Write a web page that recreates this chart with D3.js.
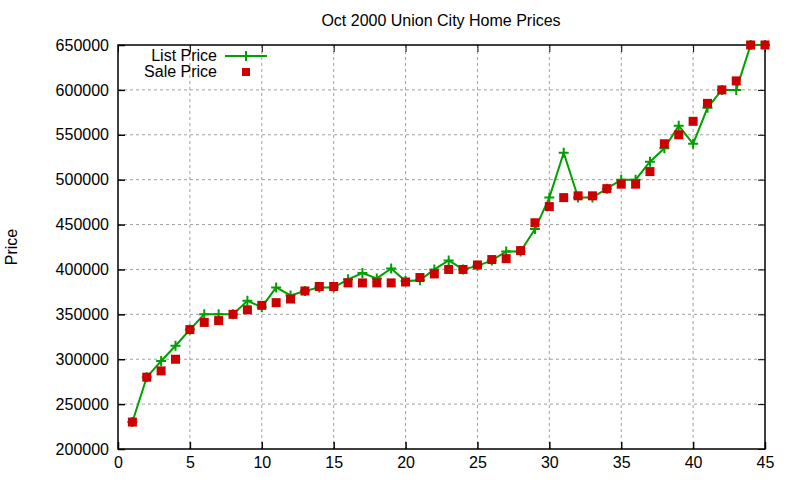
<!DOCTYPE html>
<html>
<head>
<meta charset="utf-8">
<script src="https://cdn.jsdelivr.net/npm/d3@7"></script>
<style>
  body { margin: 0; background: #fff; }
  text { font-family: "Liberation Sans", Arial, sans-serif; }
</style>
</head>
<body>
<script>
// house number on the x axis, prices
var houses = d3.range(1, 46);
var listPrice = [230000, 280000, 298000, 315000, 333000, 350000, 350000, 350000, 365000, 358000,
                 380000, 371000, 376000, 380000, 380000, 389000, 396000, 390000, 401000, 387000,
                 388000, 400000, 410000, 400000, 404000, 410000, 420000, 420000, 445000, 480000,
                 530000, 480000, 480000, 490000, 500000, 500000, 520000, 535000, 560000, 540000,
                 580000, 600000, 600000, 650000, 650000];
var salePrice = [230000, 280000, 287000, 300000, 333000, 341000, 343000, 350000, 355000, 360000,
                 363000, 367000, 376000, 381000, 381000, 385000, 385000, 385000, 385000, 386000,
                 391000, 395000, 400000, 400000, 405000, 411000, 412000, 421000, 452000, 470000,
                 480000, 482000, 482000, 490000, 495000, 495000, 509000, 540000, 550000, 565000,
                 585000, 600000, 610000, 650000, 650000];
var xTicks = d3.range(0, 46, 5);
var yTicks = d3.range(200000, 650001, 50000);

function drawChart() {
    var W = 800, H = 480;
    var pl = 118, pr = 765, pt = 45, pb = 449;
    var fs = 16;

    var svg = d3.select("body").append("svg").attr("width", W).attr("height", H);

    var x = d3.scaleLinear().domain([0, 45]).range([pl, pr]);
    var y = d3.scaleLinear().domain([200000, 650000]).range([pb, pt]);

    // grid
    svg.append("g").selectAll("line").data(xTicks.slice(1, -1)).enter().append("line")
        .attr("x1", function (d) { return x(d); }).attr("x2", function (d) { return x(d); })
        .attr("y1", pt).attr("y2", pb)
        .attr("stroke", "#a0a0a0").attr("stroke-dasharray", "3,3");
    svg.append("g").selectAll("line").data(yTicks.slice(1, -1)).enter().append("line")
        .attr("y1", function (d) { return y(d); }).attr("y2", function (d) { return y(d); })
        .attr("x1", pl).attr("x2", pr)
        .attr("stroke", "#a0a0a0").attr("stroke-dasharray", "3,3");

    // axes with mirrored ticks, gnuplot style
    function tickless(g) { g.select(".domain").remove(); g.selectAll("text").remove(); }
    svg.append("g").attr("transform", "translate(0," + pb + ")")
        .call(d3.axisBottom(x).tickValues(xTicks).tickSizeInner(-7).tickSizeOuter(0).tickPadding(8))
        .call(function (g) {
            g.select(".domain").remove();
            g.selectAll("line").attr("stroke-width", 1.5);
            g.selectAll("text").attr("font-size", fs).attr("fill", "#000")
                .attr("font-family", "Liberation Sans, Arial, sans-serif");
        });
    svg.append("g").attr("transform", "translate(0," + pt + ")")
        .call(d3.axisTop(x).tickValues(xTicks).tickSizeInner(-7).tickSizeOuter(0))
        .call(tickless);
    svg.append("g").attr("transform", "translate(" + pl + ",0)")
        .call(d3.axisLeft(y).tickValues(yTicks).tickSizeInner(-7).tickSizeOuter(0).tickPadding(9)
            .tickFormat(d3.format("d")))
        .call(function (g) {
            g.select(".domain").remove();
            g.selectAll("line").attr("stroke-width", 1.5);
            g.selectAll("text").attr("font-size", fs).attr("fill", "#000")
                .attr("font-family", "Liberation Sans, Arial, sans-serif");
        });
    svg.append("g").attr("transform", "translate(" + pr + ",0)")
        .call(d3.axisRight(y).tickValues(yTicks).tickSizeInner(-7).tickSizeOuter(0))
        .call(tickless);

    svg.append("rect").attr("x", pl).attr("y", pt)
        .attr("width", pr - pl).attr("height", pb - pt)
        .attr("fill", "none").attr("stroke", "#000").attr("stroke-width", 1.5);

    // list price line with crosses
    var green = "#00a000", red = "#cc0000";
    var line = d3.line().x(function (d, i) { return x(houses[i]); }).y(function (d) { return y(d); });
    svg.append("path").datum(listPrice).attr("d", line)
        .attr("fill", "none").attr("stroke", green).attr("stroke-width", 2);

    function cross(g, cx, cy) {
        g.append("path")
            .attr("d", "M" + (cx - 5) + "," + cy + "h10M" + cx + "," + (cy - 5) + "v10")
            .attr("stroke", green).attr("stroke-width", 2);
    }
    var crosses = svg.append("g");
    listPrice.forEach(function (d, i) { cross(crosses, x(houses[i]), y(d)); });

    // sale price squares
    svg.append("g").selectAll("rect").data(salePrice).enter().append("rect")
        .attr("x", function (d, i) { return x(houses[i]) - 4.5; })
        .attr("y", function (d) { return y(d) - 4.5; })
        .attr("width", 9).attr("height", 9).attr("fill", red);

    // title and axis label
    svg.append("text").attr("x", 441).attr("y", 26).attr("text-anchor", "middle")
        .attr("font-size", fs).text("Oct 2000 Union City Home Prices");
    svg.append("text").attr("transform", "translate(17,247) rotate(-90)")
        .attr("text-anchor", "middle").attr("font-size", fs).text("Price");

    // legend
    var lg = svg.append("g");
    lg.append("text").attr("x", 217).attr("y", 61).attr("text-anchor", "end")
        .attr("font-size", fs).text("List Price");
    lg.append("text").attr("x", 217).attr("y", 77).attr("text-anchor", "end")
        .attr("font-size", fs).text("Sale Price");
    lg.append("line").attr("x1", 225).attr("x2", 267).attr("y1", 56).attr("y2", 56)
        .attr("stroke", green).attr("stroke-width", 2);
    cross(lg, 246, 56);
    lg.append("rect").attr("x", 242).attr("y", 68).attr("width", 8).attr("height", 8).attr("fill", red);
}

drawChart();
</script>
</body>
</html>
